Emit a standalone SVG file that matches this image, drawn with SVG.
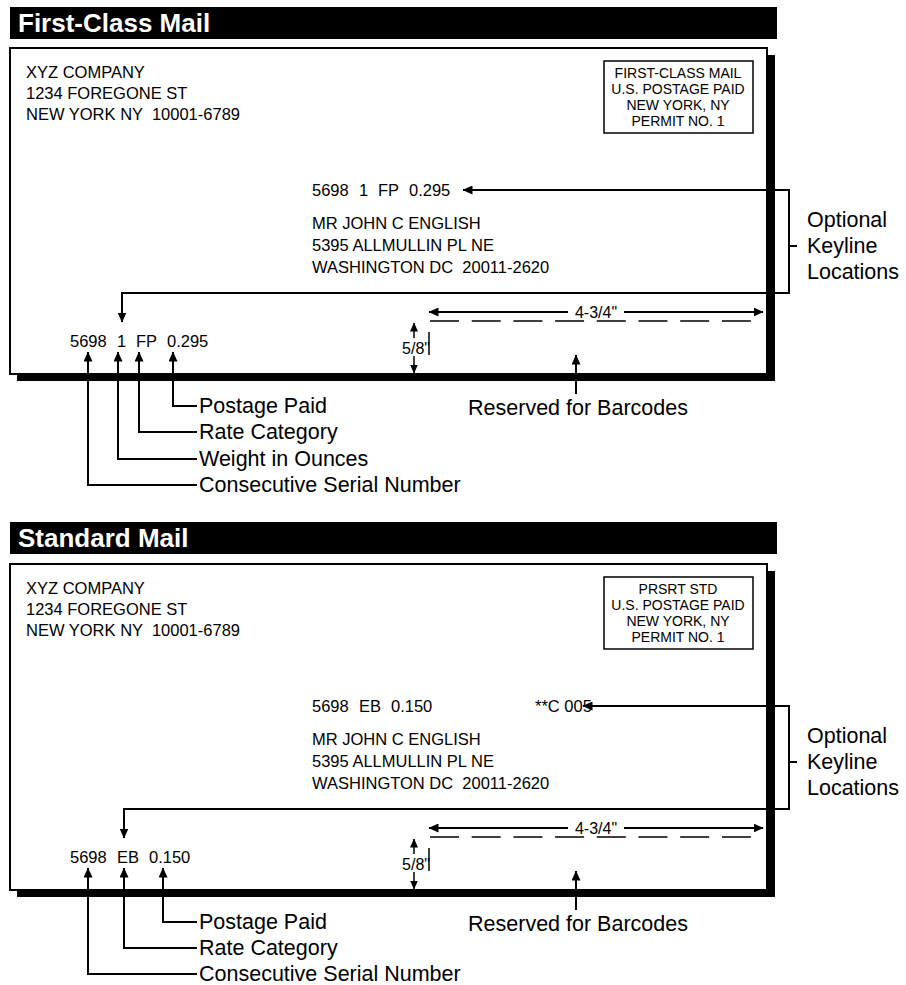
<svg xmlns="http://www.w3.org/2000/svg" width="906" height="985" viewBox="0 0 906 985">
<style>
text{font-family:"Liberation Sans",Arial,Helvetica,sans-serif;fill:#000;white-space:pre}
.title{font-size:26px;font-weight:bold;fill:#fff}
.addr{font-size:16.5px}
.permit{font-size:14px;text-anchor:middle}
.lbl{font-size:21.5px}
.dim{font-size:16px}
.ln{fill:none;stroke:#000;stroke-width:2}
.thin{fill:none;stroke:#000;stroke-width:1.5}
.dash{fill:none;stroke:#000;stroke-width:1.5;stroke-dasharray:29 12.7}
</style>
<defs>
<marker id="ah" markerUnits="userSpaceOnUse" markerWidth="10" markerHeight="9" refX="9.5" refY="4.5" orient="auto"><path d="M0,0 L10,4.5 L0,9 z" fill="#000"/></marker>
<marker id="ahs" markerUnits="userSpaceOnUse" markerWidth="9" markerHeight="8" refX="8.5" refY="4" orient="auto"><path d="M0,0 L9,4 L0,8 z" fill="#000"/></marker>
</defs>
<rect width="906" height="985" fill="#fff"/>

<g id="fc-header"><rect x="10" y="7" width="767" height="32" fill="#000"/><text class="title" x="18" y="32">First-Class Mail</text></g>
<g id="fc-envelope">
<rect x="17" y="55" width="758" height="326" fill="#000"/>
<rect x="10" y="48" width="757" height="326" fill="#fff" stroke="#000" stroke-width="2"/>
</g>
<g id="fc-return"><text class="addr" x="26" y="78">XYZ COMPANY</text><text class="addr" x="26" y="99">1234 FOREGONE ST</text><text class="addr" x="26" y="120">NEW YORK NY  10001-6789</text></g>
<g id="fc-permit"><rect x="604" y="61" width="149" height="72" fill="none" stroke="#000" stroke-width="1.5"/>
<text class="permit" x="678" y="78">FIRST-CLASS MAIL</text><text class="permit" x="678" y="94">U.S. POSTAGE PAID</text><text class="permit" x="678" y="110">NEW YORK, NY</text><text class="permit" x="678" y="126">PERMIT NO. 1</text></g>
<g id="fc-keyline-top"><text class="addr" y="196"><tspan x="312">5698</tspan><tspan x="359">1</tspan><tspan x="378">FP</tspan><tspan x="409">0.295</tspan></text></g>
<g id="fc-delivery"><text class="addr" x="312" y="229">MR JOHN C ENGLISH</text><text class="addr" x="312" y="251">5395 ALLMULLIN PL NE</text><text class="addr" x="312" y="273">WASHINGTON DC  20011-2620</text></g>
<g id="fc-keyline-bottom"><text class="addr" y="347"><tspan x="70">5698</tspan><tspan x="117">1</tspan><tspan x="136">FP</tspan><tspan x="167">0.295</tspan></text></g>
<g id="fc-optional"><text class="lbl" x="807" y="227">Optional</text><text class="lbl" x="807" y="253">Keyline</text><text class="lbl" x="807" y="279">Locations</text></g>
<g id="fc-dims"><text class="dim" x="596" y="318" text-anchor="middle">4-3/4"</text><text class="dim" x="430" y="354" text-anchor="end">5/8"</text>
<path class="dash" d="M430,321 L752,321"/><path class="thin" d="M429,332 L429,355"/></g>
<g id="fc-labels"><text class="lbl" x="199" y="413">Postage Paid</text><text class="lbl" x="199" y="439">Rate Category</text><text class="lbl" x="199" y="466">Weight in Ounces</text><text class="lbl" x="199" y="492">Consecutive Serial Number</text>
<text class="lbl" x="578" y="415" text-anchor="middle">Reserved for Barcodes</text></g>

<g id="sm-header"><rect x="10" y="522" width="767" height="32" fill="#000"/><text class="title" x="18" y="547">Standard Mail</text></g>
<g id="sm-envelope">
<rect x="17" y="571" width="758" height="326" fill="#000"/>
<rect x="10" y="564" width="757" height="326" fill="#fff" stroke="#000" stroke-width="2"/>
</g>
<g id="sm-return"><text class="addr" x="26" y="594">XYZ COMPANY</text><text class="addr" x="26" y="615">1234 FOREGONE ST</text><text class="addr" x="26" y="636">NEW YORK NY  10001-6789</text></g>
<g id="sm-permit"><rect x="604" y="577" width="149" height="72" fill="none" stroke="#000" stroke-width="1.5"/>
<text class="permit" x="678" y="594">PRSRT STD</text><text class="permit" x="678" y="610">U.S. POSTAGE PAID</text><text class="permit" x="678" y="626">NEW YORK, NY</text><text class="permit" x="678" y="642">PERMIT NO. 1</text></g>
<g id="sm-keyline-top"><text class="addr" y="712"><tspan x="312">5698</tspan><tspan x="359">EB</tspan><tspan x="391">0.150</tspan></text><text class="addr" x="535" y="712">**C 005</text></g>
<g id="sm-delivery"><text class="addr" x="312" y="745">MR JOHN C ENGLISH</text><text class="addr" x="312" y="767">5395 ALLMULLIN PL NE</text><text class="addr" x="312" y="789">WASHINGTON DC  20011-2620</text></g>
<g id="sm-keyline-bottom"><text class="addr" y="863"><tspan x="70">5698</tspan><tspan x="117">EB</tspan><tspan x="149">0.150</tspan></text></g>
<g id="sm-optional"><text class="lbl" x="807" y="743">Optional</text><text class="lbl" x="807" y="769">Keyline</text><text class="lbl" x="807" y="795">Locations</text></g>
<g id="sm-dims"><text class="dim" x="596" y="834" text-anchor="middle">4-3/4"</text><text class="dim" x="430" y="870" text-anchor="end">5/8"</text>
<path class="dash" d="M430,837 L752,837"/><path class="thin" d="M429,848 L429,871"/></g>
<g id="sm-labels"><text class="lbl" x="199" y="929">Postage Paid</text><text class="lbl" x="199" y="955">Rate Category</text><text class="lbl" x="199" y="981">Consecutive Serial Number</text>
<text class="lbl" x="578" y="931" text-anchor="middle">Reserved for Barcodes</text></g>

<g id="connectors">
<path class="ln" d="M789,246 L789,190 L463,190" marker-end="url(#ah)"/>
<path class="ln" d="M789,246 L789,293 L122,293 L122,322" marker-end="url(#ah)"/>
<path class="ln" d="M789,246 L797,246"/>
<path class="ln" d="M197,406 L173,406 L173,352" marker-end="url(#ah)"/>
<path class="ln" d="M197,432 L139,432 L139,352" marker-end="url(#ah)"/>
<path class="ln" d="M197,459 L118,459 L118,352" marker-end="url(#ah)"/>
<path class="ln" d="M197,485 L88,485 L88,352" marker-end="url(#ah)"/>
<path class="ln" d="M576,394 L576,355" marker-end="url(#ah)"/>
<path class="ln" d="M568,312 L429,312" marker-end="url(#ah)"/>
<path class="ln" d="M624,312 L763,312" marker-end="url(#ah)"/>
<path class="thin" d="M414,338 L414,323" marker-end="url(#ahs)"/>
<path class="thin" d="M414,356 L414,373" marker-end="url(#ahs)"/>

<path class="ln" d="M789,762 L789,706 L583,706" marker-end="url(#ah)"/>
<path class="ln" d="M789,762 L789,809 L124,809 L124,838" marker-end="url(#ah)"/>
<path class="ln" d="M789,762 L797,762"/>
<path class="ln" d="M197,922 L163,922 L163,868" marker-end="url(#ah)"/>
<path class="ln" d="M197,948 L124,948 L124,868" marker-end="url(#ah)"/>
<path class="ln" d="M197,974 L88,974 L88,868" marker-end="url(#ah)"/>
<path class="ln" d="M576,910 L576,871" marker-end="url(#ah)"/>
<path class="ln" d="M568,828 L429,828" marker-end="url(#ah)"/>
<path class="ln" d="M624,828 L763,828" marker-end="url(#ah)"/>
<path class="thin" d="M414,854 L414,839" marker-end="url(#ahs)"/>
<path class="thin" d="M414,872 L414,889" marker-end="url(#ahs)"/>
</g>
</svg>
